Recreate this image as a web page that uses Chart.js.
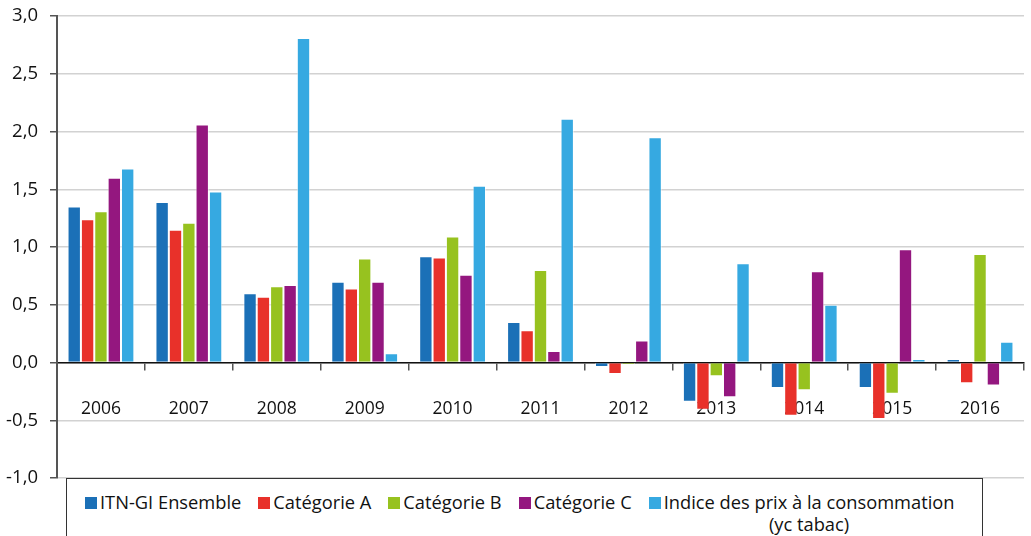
<!DOCTYPE html>
<html lang="fr">
<head>
<meta charset="utf-8">
<title>ITN-GI et indice des prix</title>
<script src="https://cdn.jsdelivr.net/npm/chart.js@4.4.1/dist/chart.umd.min.js"></script>
<style>
  html, body { margin: 0; padding: 0; background: #fff; }
  #wrap { position: relative; width: 1031px; height: 536px; overflow: hidden; }
  #chart { position: absolute; left: 0; top: 0; }
  #legend {
    position: absolute; left: 66px; top: 478px; width: 917px; height: 80px;
    border: 1.5px solid #333; border-bottom: none; background: #fff;
    font-family: "Open Sans", "Noto Sans", sans-serif; font-size: 18.3px; color: #111;
    display: flex; align-items: flex-start; padding: 12px 0 0 18px; box-sizing: border-box;
  }
  .item { display: flex; align-items: flex-start; margin-right: 17px; line-height: 22px; }
  .box { width: 12px; height: 12px; margin: 6px 3px 0 0; flex: none; }
  .txt { text-align: center; white-space: nowrap; }
</style>
</head>
<body>
<div id="wrap">
  <canvas id="chart" width="1031" height="536"></canvas>
  <div id="legend"></div>
</div>
<script>
// ---------- data ----------
const years = ["2006", "2007", "2008", "2009", "2010", "2011", "2012", "2013", "2014", "2015", "2016"];
const seriesNames = [
  ["ITN-GI Ensemble"],
  ["Catégorie A"],
  ["Catégorie B"],
  ["Catégorie C"],
  ["Indice des prix à la consommation", "(yc tabac)"]
];
const itnEnsemble = [1.35, 1.39, 0.60, 0.70, 0.92, 0.35, -0.04, -0.34, -0.22, -0.22, 0.03];
const categorieA  = [1.24, 1.15, 0.57, 0.64, 0.91, 0.28, -0.10, -0.41, -0.46, -0.49, -0.18];
const categorieB  = [1.31, 1.21, 0.66, 0.90, 1.09, 0.80, -0.02, -0.12, -0.24, -0.27, 0.94];
const categorieC  = [1.60, 2.06, 0.67, 0.70, 0.76, 0.10, 0.19, -0.30, 0.79, 0.98, -0.20];
const indicePrix  = [1.68, 1.48, 2.81, 0.08, 1.53, 2.11, 1.95, 0.86, 0.50, 0.03, 0.18];
const yMin = -1, yMax = 3, yStep = 0.5;

const colors = ["#1b70b7", "#e8312a", "#97c21f", "#94177f", "#36a9e1"];
const values = [itnEnsemble, categorieA, categorieB, categorieC, indicePrix];

const FONT = '"Open Sans", "Noto Sans", sans-serif';

const datasets = values.map((v, i) => ({
  label: seriesNames[i].join(" "),
  data: v,
  backgroundColor: colors[i],
  borderColor: "rgba(255,255,255,0.55)",
  borderWidth: 1,
  categoryPercentage: 0.76,
  barPercentage: 1.0
}));

// scales should not push the plot area around: padding is set by hand below
const noPad = s => { s.paddingTop = 0; s.paddingBottom = 0; s.paddingLeft = 0; s.paddingRight = 0; };

new Chart(document.getElementById("chart"), {
  type: "bar",
  data: { labels: years, datasets },
  options: {
    responsive: false,
    animation: false,
    layout: { padding: { top: 16, right: 7, bottom: 58, left: 0 } },
    plugins: { legend: { display: false }, tooltip: { enabled: false } },
    scales: {
      x: {
        position: { y: 0 },
        z: 1,
        afterFit: noPad,
        grid: { drawOnChartArea: false, offset: true, tickLength: 7, color: "#555", lineWidth: 1.5 },
        border: { color: "#111", width: 1.5 },
        ticks: { padding: 29, color: "#111", font: { family: FONT, size: 17.5 } }
      },
      y: {
        min: yMin, max: yMax,
        afterFit: s => { noPad(s); s.width = 57; },
        grid: { color: "#d2d2d2", lineWidth: 1.5, tickLength: 7, tickColor: "#555" },
        border: { color: "#555", width: 2 },
        ticks: {
          stepSize: yStep, padding: 12, color: "#111",
          font: { family: FONT, size: 18.5 },
          callback: v => v.toFixed(1).replace(".", ",")
        }
      }
    }
  }
});

// ---------- legend ----------
const legendEl = document.getElementById("legend");
seriesNames.forEach((name, i) => {
  const item = document.createElement("div");
  item.className = "item";
  const box = document.createElement("div");
  box.className = "box";
  box.style.background = colors[i];
  const txt = document.createElement("div");
  txt.className = "txt";
  txt.innerHTML = name.join("<br>");
  item.appendChild(box);
  item.appendChild(txt);
  legendEl.appendChild(item);
});
</script>
</body>
</html>
